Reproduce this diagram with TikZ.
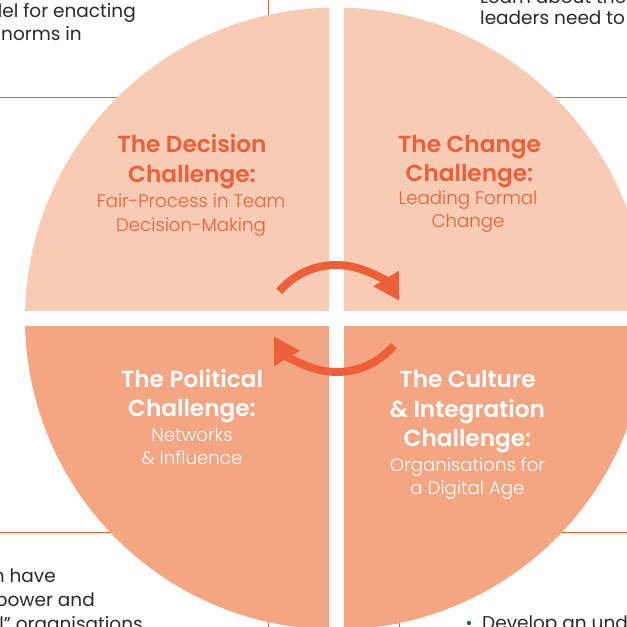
\documentclass[tikz,border=0pt]{standalone}
\usepackage{fontspec}
\setmainfont{Poppins}[BoldFont={Poppins SemiBold}]
\newfontfamily\lightfont{Poppins Light}
\usetikzlibrary{arrows.meta}
\definecolor{lightq}{HTML}{F8CBB4}
\definecolor{darkq}{HTML}{F4A582}
\definecolor{accent}{HTML}{EC5F38}
\definecolor{ink}{HTML}{2A2A2A}
\definecolor{bulletgreen}{HTML}{1B6B4E}
\begin{document}
\begin{tikzpicture}[x=1pt,y=1pt,
  gridline/.style={draw=accent,line width=0.9pt},
  ttl/.style={font=\fontsize{23.2}{27}\selectfont\bfseries,anchor=base,inner sep=0pt},
  subt/.style={font=\fontsize{18.2}{21}\lightfont,anchor=base,inner sep=0pt},
  corner/.style={font=\fontsize{18.5}{21}\selectfont,text=ink,inner sep=0pt},
  cyclearrow/.style={draw=accent,line width=8pt,-{Triangle[length=26pt,width=28pt]}}]
\useasboundingbox (0,0) rectangle (627,627);
\clip (0,0) rectangle (627,627);
\fill[white] (0,0) rectangle (627,627);
% background grid lines
\draw[gridline] (0,530) -- (118,530);
\draw[gridline] (554,530) -- (627,530);
\draw[gridline] (0,95) -- (110,95);
\draw[gridline] (562,95) -- (627,95);
\draw[gridline] (268,627) -- (268,611);
\draw[gridline] (268,6) -- (268,0);
\draw[gridline] (399,5) -- (399,0);
% corner texts
\node[corner,anchor=base east] (tl1) at (136,609) {del for enacting};
\node[corner,anchor=base west] (tl2) at (1,586) {norms in};
\node[corner,anchor=base west] (tr1) at (480,623) {Learn about the};
\node[corner,anchor=base west] (tr2) at (480,602) {leaders need to};
\node[corner,anchor=base east] (bl1) at (56,44) {n have};
\node[corner,anchor=base east] (bl2) at (95,20) {power and};
\node[corner,anchor=base east] (bl3) at (143,-4) {al” organisations};
\fill[bulletgreen] (469,4) circle (2.2);
\node[corner,anchor=base west] (br1) at (482,-2) {Develop an und};
% quadrants
\begin{scope}
  \clip (336,308.5) circle (311);
  \fill[lightq] (-10,316) rectangle (328.5,700);
  \fill[lightq] (343.5,316) rectangle (700,700);
  \fill[darkq] (-10,-10) rectangle (328.5,301);
  \fill[darkq] (343.5,-10) rectangle (700,301);
\end{scope}
% arrows
\coordinate (ctop) at (336,288);
\coordinate (cbot) at (337,329);
\draw[cyclearrow] (ctop) ++(140:74) arc (140:31:74);
\draw[cyclearrow] (cbot) ++(-40:74) arc (-40:-149:74);
% texts
\node[ttl,text=accent] (d1) at (192,474) {The Decision};
\node[ttl,text=accent] (d2) at (192,444) {Challenge:};
\node[subt,text=accent] (d3) at (191,419) {Fair-Process in Team};
\node[subt,text=accent] (d4) at (191,395) {Decision-Making};
\node[ttl,text=accent] (c1) at (469.5,474) {The Change};
\node[ttl,text=accent] (c2) at (469.5,445) {Challenge:};
\node[subt,text=accent] (c3) at (468,422) {Leading Formal};
\node[subt,text=accent] (c4) at (468,399) {Change};
\node[ttl,text=white] (p1) at (192,239) {The Political};
\node[ttl,text=white] (p2) at (192,210) {Challenge:};
\node[subt,text=white] (p3) at (192,185) {Networks};
\node[subt,text=white] (p4) at (192,162) {\& Influence};
\node[ttl,text=white] (u1) at (467.5,239) {The Culture};
\node[ttl,text=white] (u2) at (467.5,209) {\& Integration};
\node[ttl,text=white] (u3) at (467.5,180) {Challenge:};
\node[subt,text=white] (u4) at (467.5,155) {Organisations for};
\node[subt,text=white] (u5) at (467.5,132) {a Digital Age};
\end{tikzpicture}
\end{document}
